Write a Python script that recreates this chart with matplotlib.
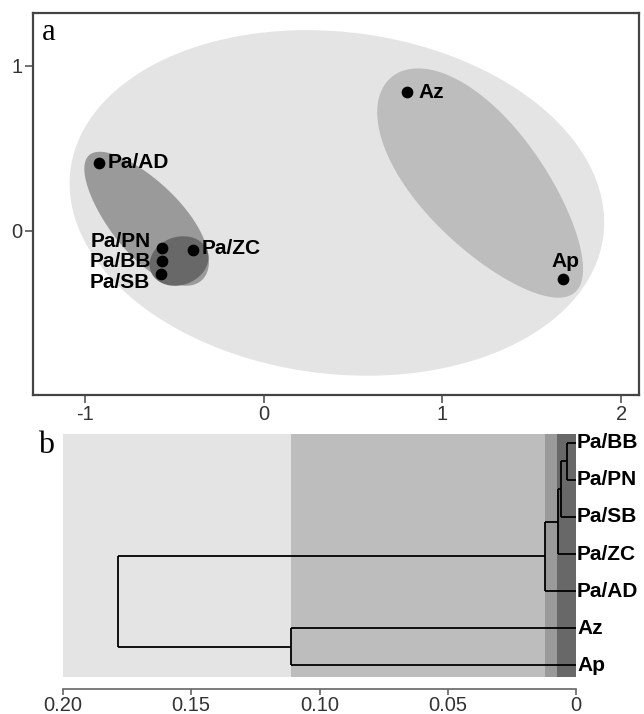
import numpy as np
import matplotlib
matplotlib.use("Agg")
import matplotlib.pyplot as plt
from matplotlib.patches import Polygon

# ---------------- data ----------------
# panel a: ordination scores
pop_names = ["Pa/AD", "Pa/PN", "Pa/BB", "Pa/SB", "Pa/ZC", "Az", "Ap"]
pop_x = [-0.919, -0.567, -0.567, -0.572, -0.394, 0.802, 1.673]
pop_y = [0.412, -0.103, -0.182, -0.261, -0.115, 0.842, -0.291]

a_xticks = [-1, 0, 1, 2]
a_yticks = [0, 1]

# panel b: dendrogram (leaf order top -> bottom)
leaf_names = ["Pa/BB", "Pa/PN", "Pa/SB", "Pa/ZC", "Pa/AD", "Az", "Ap"]
# merges: children indices (0..6 leaves, 7.. internal nodes in order)
merge_left = [0, 7, 8, 9, 5, 10]
merge_right = [1, 2, 3, 4, 6, 11]
merge_height = [0.0035, 0.0057, 0.0072, 0.0122, 0.111, 0.1786]

band_edges = [0.20, 0.111, 0.0122, 0.0074, 0.0]
b_xticks = [0.20, 0.15, 0.10, 0.05, 0.0]
b_xticklabels = ["0.20", "0.15", "0.10", "0.05", "0"]

# ---------------- style ----------------
shade_colors = ["#e4e4e4", "#bdbdbd", "#9a9a9a", "#686868"]
SANS = ["Liberation Sans", "DejaVu Sans"]
SERIF = ["Liberation Serif", "DejaVu Serif"]
plt.rcParams["font.family"] = SANS

W, H = 644, 714
fig = plt.figure(figsize=(W / 100, H / 100), dpi=100)

# ---------------- panel a ----------------
ax1 = fig.add_axes([33 / W, 1 - 395 / H, 606 / W, 382 / H])
xlim = (-1.288, 2.098)
ylim = (-0.994, 1.321)
ax1.set_xlim(*xlim)
ax1.set_ylim(*ylim)
px_x = 606 / (xlim[1] - xlim[0])
py_y = 382 / (ylim[1] - ylim[0])
yscale = px_x / py_y


def shape_poly(cx, cy, a, b, ang, k=0.0, n=300):
    t = np.linspace(0, 2 * np.pi, n)
    u = a * np.cos(t)
    v = b * np.sin(t) * (1 + k * np.cos(t))
    th = np.deg2rad(ang)
    dx = u * np.cos(th) - v * np.sin(th)
    dy = u * np.sin(th) + v * np.cos(th)
    return np.column_stack([cx + dx, cy + dy * yscale])


# (cx, cy, a, b, angle, egg factor, colour index)
regions = [
    (0.41, 0.17, 1.50, 0.955, -7, 0.0, 0),
    (1.226, 0.279, 0.79, 0.34, -49.5, -0.15, 1),
    (-0.66, 0.08, 0.47, 0.2, -48, 0.12, 2),
    (-0.472, -0.182, 0.168, 0.134, 20, 0.0, 3),
]
for cx, cy, a, b, ang, k, ci in regions:
    ax1.add_patch(Polygon(shape_poly(cx, cy, a, b, ang, k), closed=True,
                          facecolor=shade_colors[ci], edgecolor="none", zorder=1))

ax1.scatter(pop_x, pop_y, s=55, color="black", zorder=3)

label_off = {  # offsets in points, alignment
    "Pa/AD": (6, 0, "left", "center"),
    "Pa/PN": (-8, 5, "right", "center"),
    "Pa/BB": (-8, 0, "right", "center"),
    "Pa/SB": (-8, -6, "right", "center"),
    "Pa/ZC": (6, 1, "left", "center"),
    "Az": (8, 0, "left", "center"),
    "Ap": (2, 6, "center", "bottom"),
}
for nm, x, y in zip(pop_names, pop_x, pop_y):
    ox, oy, ha, va = label_off[nm]
    ax1.annotate(nm, (x, y), xytext=(ox, oy), textcoords="offset points",
                 ha=ha, va=va, fontsize=15, fontweight="bold", color="black",
                 zorder=4)

ax1.set_xticks(a_xticks)
ax1.set_xticklabels([str(v) for v in a_xticks])
ax1.set_yticks(a_yticks)
ax1.set_yticklabels([str(v) for v in a_yticks])
for sp in ax1.spines.values():
    sp.set_color("#444444")
    sp.set_linewidth(1.6)
ax1.tick_params(direction="out", length=6, width=1.2, color="#555555",
                labelcolor="#333333", labelsize=14.5, pad=1.5)

fig.text(42 / W, 1 - 40 / H, "a", fontsize=22, family=SERIF, color="black")

# ---------------- panel b ----------------
ax2 = fig.add_axes([63 / W, 1 - 677 / H, 513 / W, 243 / H])
n_leaf = len(leaf_names)
ax2.set_xlim(0.20, 0.0)
ax2.set_ylim(-0.324, n_leaf - 1 + 0.243)

for i in range(len(band_edges) - 1):
    ax2.axvspan(band_edges[i + 1], band_edges[i], color=shade_colors[i],
                lw=0, zorder=0)

node_y = {i: n_leaf - 1 - i for i in range(n_leaf)}
node_h = {i: 0.0 for i in range(n_leaf)}
for j, (l, r, h) in enumerate(zip(merge_left, merge_right, merge_height)):
    nid = n_leaf + j
    for c in (l, r):
        ax2.plot([node_h[c], h], [node_y[c], node_y[c]], color="black",
                 lw=1.3, solid_capstyle="butt", zorder=2)
    ax2.plot([h, h], [node_y[l], node_y[r]], color="black", lw=1.3,
             solid_capstyle="butt", zorder=2)
    node_y[nid] = (node_y[l] + node_y[r]) / 2
    node_h[nid] = h

for i, nm in enumerate(leaf_names):
    ax2.text(-0.0004, node_y[i], nm, ha="left", va="center", fontsize=15,
             fontweight="bold", color="black", clip_on=False)

for s in ("top", "left", "right"):
    ax2.spines[s].set_visible(False)
ax2.spines["bottom"].set_position(("outward", 8.5))
ax2.spines["bottom"].set_color("#666666")
ax2.spines["bottom"].set_linewidth(1.2)
ax2.set_yticks([])
ax2.set_xticks(b_xticks)
ax2.set_xticklabels(b_xticklabels)
ax2.tick_params(axis="x", direction="out", length=4, width=1.2, color="#666666",
                labelcolor="#333333", labelsize=14.5, pad=1)

fig.text(38 / W, 1 - 453 / H, "b", fontsize=23, family=SERIF, color="black")

fig.savefig("out.png", dpi=100)
